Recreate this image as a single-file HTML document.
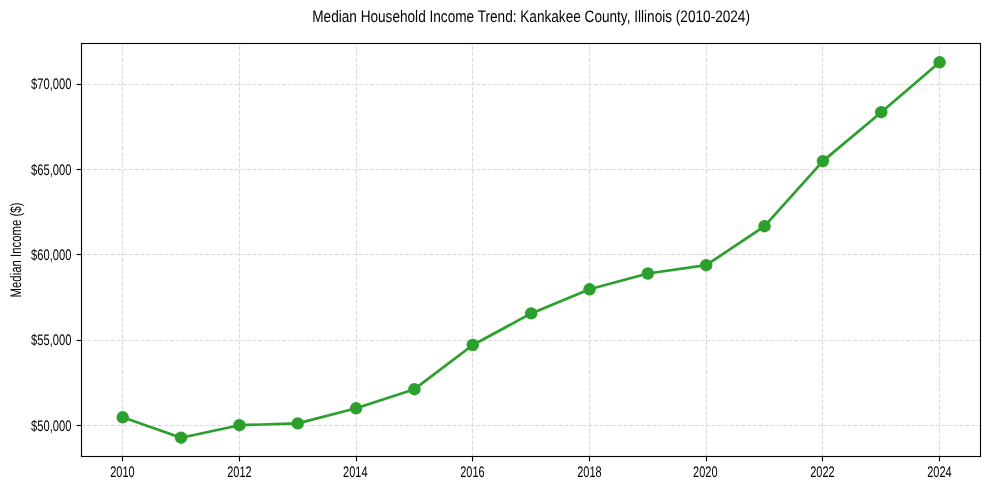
<!DOCTYPE html>
<html lang="en"><head><meta charset="utf-8"><title>Median Household Income Trend: Kankakee County, Illinois (2010-2024)</title>
<style>html,body{margin:0;padding:0;background:#fff;}body{width:989px;height:490px;overflow:hidden;}svg{display:block;will-change:transform;}text{font-family:"Liberation Sans", Arial, sans-serif;fill:#000;text-rendering:geometricPrecision;}</style>
</head><body>
<svg width="989" height="490" viewBox="0 0 989 490">
<rect x="0" y="0" width="989" height="490" fill="#ffffff"/>
<g stroke="#dadada" stroke-width="1.11" stroke-dasharray="4.11 1.78" fill="none">
<line x1="122.50" y1="456.50" x2="122.50" y2="43.50"/>
<line x1="239.50" y1="456.50" x2="239.50" y2="43.50"/>
<line x1="356.50" y1="456.50" x2="356.50" y2="43.50"/>
<line x1="472.50" y1="456.50" x2="472.50" y2="43.50"/>
<line x1="589.50" y1="456.50" x2="589.50" y2="43.50"/>
<line x1="706.50" y1="456.50" x2="706.50" y2="43.50"/>
<line x1="822.50" y1="456.50" x2="822.50" y2="43.50"/>
<line x1="939.50" y1="456.50" x2="939.50" y2="43.50"/>
<line x1="81.50" y1="425.50" x2="980.50" y2="425.50"/>
<line x1="81.50" y1="340.50" x2="980.50" y2="340.50"/>
<line x1="81.50" y1="254.50" x2="980.50" y2="254.50"/>
<line x1="81.50" y1="169.50" x2="980.50" y2="169.50"/>
<line x1="81.50" y1="84.50" x2="980.50" y2="84.50"/>
</g>
<polyline points="122.70,417.30 181.05,437.70 239.40,425.20 297.75,423.40 356.10,408.30 414.45,389.20 472.80,345.00 531.15,313.40 589.50,289.30 647.85,273.50 706.20,265.20 764.55,226.20 822.90,161.10 881.25,112.20 939.60,62.30" fill="none" stroke="#2ca02c" stroke-width="2.7" stroke-linejoin="round" stroke-linecap="butt"/>
<g fill="#2ca02c">
<circle cx="122.70" cy="417.30" r="6.2"/>
<circle cx="181.05" cy="437.70" r="6.2"/>
<circle cx="239.40" cy="425.20" r="6.2"/>
<circle cx="297.75" cy="423.40" r="6.2"/>
<circle cx="356.10" cy="408.30" r="6.2"/>
<circle cx="414.45" cy="389.20" r="6.2"/>
<circle cx="472.80" cy="345.00" r="6.2"/>
<circle cx="531.15" cy="313.40" r="6.2"/>
<circle cx="589.50" cy="289.30" r="6.2"/>
<circle cx="647.85" cy="273.50" r="6.2"/>
<circle cx="706.20" cy="265.20" r="6.2"/>
<circle cx="764.55" cy="226.20" r="6.2"/>
<circle cx="822.90" cy="161.10" r="6.2"/>
<circle cx="881.25" cy="112.20" r="6.2"/>
<circle cx="939.60" cy="62.30" r="6.2"/>
</g>
<g stroke="#000" stroke-width="1.11" fill="none">
<line x1="122.50" y1="456.50" x2="122.50" y2="461.36"/>
<line x1="239.50" y1="456.50" x2="239.50" y2="461.36"/>
<line x1="356.50" y1="456.50" x2="356.50" y2="461.36"/>
<line x1="472.50" y1="456.50" x2="472.50" y2="461.36"/>
<line x1="589.50" y1="456.50" x2="589.50" y2="461.36"/>
<line x1="706.50" y1="456.50" x2="706.50" y2="461.36"/>
<line x1="822.50" y1="456.50" x2="822.50" y2="461.36"/>
<line x1="939.50" y1="456.50" x2="939.50" y2="461.36"/>
<line x1="76.64" y1="425.50" x2="81.50" y2="425.50"/>
<line x1="76.64" y1="340.50" x2="81.50" y2="340.50"/>
<line x1="76.64" y1="254.50" x2="81.50" y2="254.50"/>
<line x1="76.64" y1="169.50" x2="81.50" y2="169.50"/>
<line x1="76.64" y1="84.50" x2="81.50" y2="84.50"/>
</g>
<rect x="81.50" y="43.50" width="899.00" height="413.00" fill="none" stroke="#000" stroke-width="1.11"/>
<g font-size="13.89">
<text transform="translate(122.40,476.80) scale(0.790,1.100)" text-anchor="middle">2010</text>
<text transform="translate(239.40,476.80) scale(0.790,1.100)" text-anchor="middle">2012</text>
<text transform="translate(355.30,476.80) scale(0.790,1.100)" text-anchor="middle">2014</text>
<text transform="translate(472.40,476.80) scale(0.790,1.100)" text-anchor="middle">2016</text>
<text transform="translate(589.40,476.80) scale(0.790,1.100)" text-anchor="middle">2018</text>
<text transform="translate(705.30,476.80) scale(0.790,1.100)" text-anchor="middle">2020</text>
<text transform="translate(822.40,476.80) scale(0.790,1.100)" text-anchor="middle">2022</text>
<text transform="translate(939.40,476.80) scale(0.790,1.100)" text-anchor="middle">2024</text>
<text transform="translate(71.40,430.90) scale(0.806,1.100)" text-anchor="end">$50,000</text>
<text transform="translate(71.40,344.90) scale(0.806,1.100)" text-anchor="end">$55,000</text>
<text transform="translate(71.40,259.90) scale(0.806,1.100)" text-anchor="end">$60,000</text>
<text transform="translate(71.40,174.90) scale(0.806,1.100)" text-anchor="end">$65,000</text>
<text transform="translate(71.40,88.90) scale(0.806,1.100)" text-anchor="end">$70,000</text>
<text transform="translate(20.60,250.00) rotate(-90) scale(0.820,1.100)" text-anchor="middle">Median Income ($)</text>
</g>
<text font-size="16.67" transform="translate(531.10,22.00) scale(0.817,1)" text-anchor="middle">Median Household Income Trend: Kankakee County, Illinois (2010-2024)</text>
</svg>
</body></html>
